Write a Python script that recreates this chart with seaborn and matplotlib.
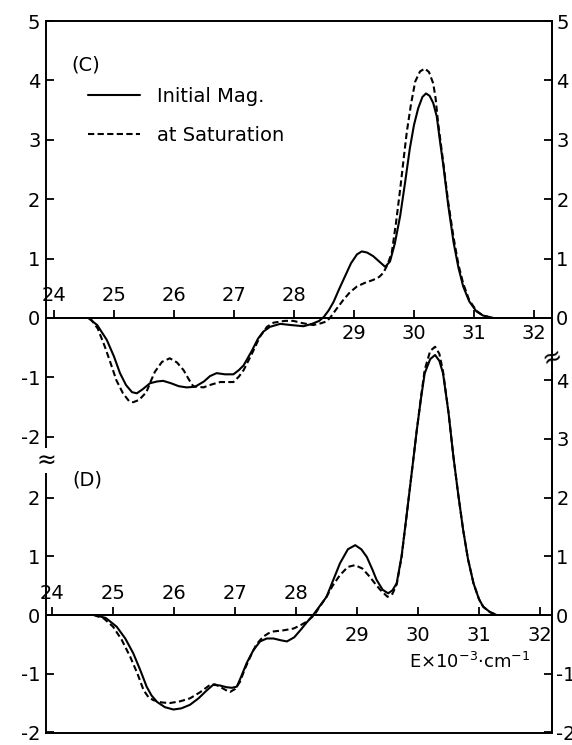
import matplotlib
matplotlib.use("Agg")
import matplotlib.pyplot as plt
import seaborn as sns

# ---- Panel (C): signal vs. energy (x 10^3 cm^-1) ----
c_energy_initial = [24.57, 24.72, 24.88, 25.0, 25.1, 25.2, 25.3, 25.38, 25.48, 25.6,
                    25.72, 25.82, 25.95, 26.08, 26.21, 26.35, 26.5, 26.6, 26.71, 26.85,
                    26.99, 27.08, 27.16, 27.3, 27.4, 27.49, 27.6, 27.77, 27.95, 28.16,
                    28.3, 28.42, 28.5, 28.58, 28.66, 28.75, 28.85, 28.95, 29.05, 29.13,
                    29.22, 29.32, 29.42, 29.52, 29.6, 29.68, 29.77, 29.85, 29.93, 30.0,
                    30.07, 30.14, 30.2, 30.26, 30.32, 30.38, 30.43, 30.49, 30.57, 30.66,
                    30.74, 30.82, 30.92, 31.04, 31.15, 31.32]
c_signal_initial = [0.0, -0.12, -0.37, -0.65, -0.93, -1.13, -1.25, -1.27, -1.2, -1.1,
                    -1.07, -1.06, -1.1, -1.15, -1.17, -1.16, -1.07, -0.98, -0.93, -0.95,
                    -0.95, -0.88, -0.8, -0.55, -0.35, -0.23, -0.15, -0.1, -0.12, -0.14,
                    -0.1, -0.05, 0.02, 0.13, 0.27, 0.48, 0.7, 0.92, 1.07, 1.12,
                    1.1, 1.04, 0.95, 0.86, 0.95, 1.25, 1.72, 2.27, 2.85, 3.25,
                    3.53, 3.72, 3.78, 3.74, 3.62, 3.39, 3.0, 2.56, 1.9, 1.27,
                    0.85, 0.53, 0.28, 0.11, 0.04, 0.0]

c_energy_saturation = [24.6, 24.73, 24.85, 24.95, 25.04, 25.15, 25.25, 25.32, 25.42, 25.54,
                       25.62, 25.68, 25.8, 25.93, 26.05, 26.16, 26.25, 26.32, 26.49, 26.63,
                       26.77, 26.9, 26.99, 27.08, 27.16, 27.3, 27.43, 27.55, 27.66, 27.85,
                       27.99, 28.15, 28.32, 28.45, 28.54, 28.6, 28.7, 28.82, 28.93, 29.05,
                       29.18, 29.32, 29.42, 29.49, 29.56, 29.63, 29.7, 29.77, 29.83, 29.88,
                       29.95, 30.02, 30.1, 30.18, 30.25, 30.32, 30.36, 30.4, 30.49, 30.57,
                       30.66, 30.74, 30.82, 30.92, 31.04, 31.15, 31.3]
c_signal_saturation = [0.0, -0.18, -0.49, -0.78, -1.05, -1.27, -1.4, -1.42, -1.38, -1.25,
                       -1.05, -0.91, -0.74, -0.68, -0.75, -0.88, -1.04, -1.15, -1.17, -1.12,
                       -1.08, -1.08, -1.08, -0.99, -0.88, -0.6, -0.32, -0.15, -0.08, -0.05,
                       -0.05, -0.09, -0.12, -0.09, -0.06, 0.0, 0.14, 0.3, 0.43, 0.53,
                       0.59, 0.64, 0.69, 0.76, 0.9, 1.1, 1.6, 2.17, 2.7, 3.13,
                       3.6, 3.98, 4.15, 4.2, 4.14, 3.95, 3.7, 3.3, 2.6, 1.95,
                       1.35, 0.9, 0.58, 0.3, 0.12, 0.04, 0.0]

# ---- Panel (D) ----
d_energy_initial = [24.7, 24.88, 25.06, 25.2, 25.33, 25.45, 25.55, 25.63, 25.72, 25.85,
                    25.99, 26.12, 26.26, 26.4, 26.54, 26.64, 26.75, 26.86, 26.95, 27.03,
                    27.1, 27.19, 27.3, 27.41, 27.52, 27.63, 27.75, 27.85, 27.97, 28.07,
                    28.18, 28.28, 28.38, 28.5, 28.6, 28.72, 28.85, 28.97, 29.07, 29.16,
                    29.25, 29.32, 29.42, 29.51, 29.58, 29.65, 29.73, 29.81, 29.9, 29.98,
                    30.05, 30.11, 30.2, 30.28, 30.35, 30.41, 30.5, 30.58, 30.66, 30.74,
                    30.82, 30.91, 31.0, 31.07, 31.18, 31.29]
d_signal_initial = [0.0, -0.05, -0.2, -0.4, -0.65, -0.95, -1.22, -1.37, -1.48, -1.57,
                    -1.61, -1.59, -1.53, -1.42, -1.28, -1.19, -1.2, -1.23, -1.24, -1.22,
                    -1.05, -0.82, -0.6, -0.45, -0.4, -0.4, -0.43, -0.45, -0.38, -0.26,
                    -0.12, 0.0, 0.14, 0.31, 0.57, 0.88, 1.12, 1.19, 1.12, 0.99,
                    0.78, 0.6, 0.43, 0.37, 0.42, 0.54, 1.0, 1.67, 2.45, 3.15,
                    3.7, 4.12, 4.36, 4.43, 4.33, 4.12, 3.45, 2.7, 2.05, 1.45,
                    0.95, 0.54, 0.27, 0.14, 0.05, 0.0]

d_energy_saturation = [24.68, 24.85, 25.0, 25.14, 25.28, 25.4, 25.5, 25.58, 25.66, 25.8,
                       25.93, 26.1, 26.26, 26.42, 26.59, 26.67, 26.75, 26.85, 26.92, 27.0,
                       27.08, 27.16, 27.25, 27.35, 27.46, 27.55, 27.63, 27.8, 27.96, 28.08,
                       28.18, 28.3, 28.38, 28.5, 28.6, 28.72, 28.85, 28.97, 29.09, 29.21,
                       29.3, 29.38, 29.5, 29.58, 29.65, 29.73, 29.81, 29.9, 29.98, 30.05,
                       30.11, 30.2, 30.28, 30.35, 30.41, 30.5, 30.58, 30.66, 30.74, 30.82,
                       30.91, 31.0, 31.07, 31.18, 31.29]
d_signal_saturation = [0.0, -0.06, -0.2, -0.42, -0.71, -1.0, -1.28, -1.4, -1.45, -1.49,
                       -1.5, -1.47, -1.42, -1.32, -1.19, -1.18, -1.22, -1.28, -1.31, -1.26,
                       -1.14, -0.92, -0.71, -0.5, -0.37, -0.31, -0.28, -0.26, -0.23, -0.17,
                       -0.11, 0.0, 0.13, 0.31, 0.5, 0.68, 0.82, 0.85, 0.79, 0.65,
                       0.53, 0.43, 0.31, 0.36, 0.52, 0.98, 1.67, 2.45, 3.15, 3.72,
                       4.18, 4.5, 4.57, 4.45, 4.15, 3.45, 2.7, 2.05, 1.45, 0.95,
                       0.54, 0.27, 0.14, 0.05, 0.0]

# ---- Axis ticks and text ----
energy_ticks = [24, 25, 26, 27, 28, 29, 30, 31, 32]
c_left_ticks = [5, 4, 3, 2, 1, 0, -1, -2]
c_right_ticks = [5, 4, 3, 2, 1, 0]
d_left_ticks = [2, 1, 0, -1, -2]
d_right_ticks = [4, 3, 2, 1, 0, -1, -2]
series_labels = ["Initial Mag.", "at Saturation"]
panel_labels = ["(C)", "(D)"]
energy_label = r"E$\times$10$^{-3}$$\cdot$cm$^{-1}$"

sns.set_theme(style="white")
plt.rcParams["font.family"] = ["DejaVu Sans"]
plt.rcParams["axes.unicode_minus"] = False
plt.rcParams["mathtext.fontset"] = "dejavusans"
plt.rcParams["text.color"] = "black"

INK = "black"
LW = 1.5
DASH = (0, (3.0, 1.6))
TICK_FS = 14
line_kw = dict(color=INK, linewidth=LW, sort=False,
               solid_joinstyle="round", dash_joinstyle="round")

fig = plt.figure(figsize=(5.72, 7.45), dpi=100)
rect = [46 / 572, 12 / 745, 506 / 572, 712 / 745]
ax_c = fig.add_axes(rect)
ax_d = fig.add_axes(rect, facecolor="none")

ax_c.set_xlim(23.867, 32.3)
ax_c.set_ylim(-6.99, 5.0)
ax_d.set_xlim(23.90, 32.197)
ax_d.set_ylim(-2.01, 10.12)

# curves
sns.lineplot(x=c_energy_initial, y=c_signal_initial, ax=ax_c, **line_kw)
sns.lineplot(x=c_energy_saturation, y=c_signal_saturation, ax=ax_c,
             linestyle=DASH, **line_kw)
sns.lineplot(x=d_energy_initial, y=d_signal_initial, ax=ax_d, **line_kw)
sns.lineplot(x=d_energy_saturation, y=d_signal_saturation, ax=ax_d,
             linestyle=DASH, **line_kw)

# outer frame belongs to panel C's axes
for side in ("left", "right", "top", "bottom"):
    ax_c.spines[side].set_visible(True)
    ax_c.spines[side].set_color(INK)
    ax_c.spines[side].set_linewidth(1.4)
    ax_d.spines[side].set_visible(False)

for ax in (ax_c, ax_d):
    ax.set_xticks([])
    ax.set_xlabel("")
    ax.set_ylabel("")
    ax.grid(False)

# left scales
ax_c.set_yticks(c_left_ticks, labels=[str(t) for t in c_left_ticks])
ax_d.set_yticks(d_left_ticks, labels=[str(t) for t in d_left_ticks])
for ax in (ax_c, ax_d):
    ax.tick_params(axis="y", which="both", left=True, right=False, direction="in",
                   length=6, width=1.3, color=INK, labelcolor=INK,
                   labelsize=TICK_FS, pad=4)

# right scales
for ax, ticks in ((ax_c, c_right_ticks), (ax_d, d_right_ticks)):
    sec = ax.secondary_yaxis("right")
    sec.set_yticks(ticks, labels=[str(t) for t in ticks])
    sec.tick_params(direction="in", length=6, width=1.3, color=INK,
                    labelcolor=INK, labelsize=TICK_FS, pad=3)
    sec.spines["right"].set_linewidth(1.4)
    sec.spines["right"].set_color(INK)

# energy axes drawn along each panel's zero line
for ax, pad_up, pad_down in ((ax_c, 3.0, 4.5), (ax_d, 3.0, 8.0)):
    up = ax.secondary_xaxis(0, transform=ax.transData)
    up.set_alignment("top")
    up.set_xticks(energy_ticks,
                  labels=[str(t) if t <= 28 else "" for t in energy_ticks])
    up.tick_params(direction="out", length=6, width=1.3, color=INK,
                   labelcolor=INK, labelsize=TICK_FS, pad=pad_up)
    up.spines["top"].set_linewidth(1.4)
    up.spines["top"].set_color(INK)

    down = ax.secondary_xaxis(0, transform=ax.transData)
    down.set_alignment("bottom")
    down.set_xticks(energy_ticks,
                    labels=[str(t) if t >= 29 else "" for t in energy_ticks])
    down.tick_params(length=0, labelcolor=INK, labelsize=TICK_FS, pad=pad_down)
    down.spines["bottom"].set_linewidth(1.4)
    down.spines["bottom"].set_color(INK)

# scale-break marks on the frame
brk = dict(ha="center", va="center", fontsize=17, color=INK,
           bbox=dict(facecolor="white", edgecolor="none", pad=0.5))
ax_c.text(0.0, -2.4, "\u2248", transform=ax_c.get_yaxis_transform(), **brk)
ax_c.text(1.0, -0.67, "\u2248", transform=ax_c.get_yaxis_transform(),
          rotation=20, **brk)

# legend
if ax_d.get_legend() is not None:
    ax_d.get_legend().remove()
handles = ax_c.get_lines()[:2]
leg = ax_c.legend(handles, series_labels, loc="upper left",
                  bbox_to_anchor=(0.083, 0.908), frameon=False, fontsize=14,
                  handlelength=2.68, handletextpad=0.88, labelspacing=1.05,
                  borderpad=0, borderaxespad=0)
for t in leg.get_texts():
    t.set_color(INK)

# panel tags and energy label
ax_c.text(0.051, 0.938, panel_labels[0], transform=ax_c.transAxes,
          fontsize=TICK_FS, va="center", ha="left", color=INK)
ax_d.text(0.053, 0.355, panel_labels[1], transform=ax_d.transAxes,
          fontsize=TICK_FS, va="center", ha="left", color=INK)
ax_d.text(0.957, 0.0997, energy_label, transform=ax_d.transAxes,
          fontsize=13, va="center", ha="right", color=INK)

fig.savefig("out.png", dpi=100, facecolor="white")
